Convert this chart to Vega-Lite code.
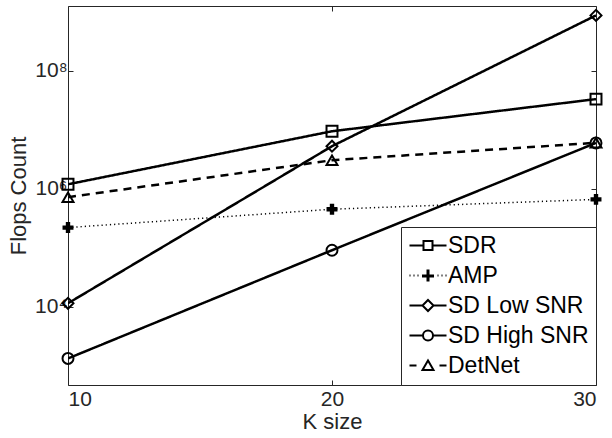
{
  "$schema": "https://vega.github.io/schema/vega-lite/v6.json",
  "width": 528,
  "height": 379,
  "autosize": "none",
  "padding": {"left": 68, "top": 6, "right": 16, "bottom": 53},
  "background": "white",
  "config": {
    "font": "Liberation Sans",
    "view": {"stroke": "#262626", "strokeWidth": 1},
    "axis": {
      "labelFont": "Liberation Sans",
      "labelFontSize": 21,
      "labelColor": "#262626",
      "titleFont": "Liberation Sans",
      "titleFontSize": 22,
      "titleFontWeight": "normal",
      "titleColor": "#262626",
      "domain": false,
      "grid": false,
      "tickColor": "#262626",
      "tickSize": -5,
      "tickWidth": 1
    }
  },
  "data": {
    "values": [
      {"method": "SDR", "K": 10, "flops": 1190000},
      {"method": "SDR", "K": 20, "flops": 9400000},
      {"method": "SDR", "K": 30, "flops": 32900000},
      {"method": "AMP", "K": 10, "flops": 220000},
      {"method": "AMP", "K": 20, "flops": 450000},
      {"method": "AMP", "K": 30, "flops": 660000},
      {"method": "SD Low SNR", "K": 10, "flops": 11500},
      {"method": "SD Low SNR", "K": 20, "flops": 5250000},
      {"method": "SD Low SNR", "K": 30, "flops": 860000000},
      {"method": "SD High SNR", "K": 10, "flops": 1340},
      {"method": "SD High SNR", "K": 20, "flops": 91000},
      {"method": "SD High SNR", "K": 30, "flops": 5970000},
      {"method": "DetNet", "K": 10, "flops": 720000},
      {"method": "DetNet", "K": 20, "flops": 3040000},
      {"method": "DetNet", "K": 30, "flops": 6000000}
    ]
  },
  "resolve": {
    "axis": {"x": "independent", "y": "independent"},
    "scale": {"shape": "independent"}
  },
  "layer": [
    {
      "mark": {"type": "line", "color": "black", "clip": true},
      "encoding": {
        "x": {
          "field": "K", "type": "quantitative",
          "scale": {"domain": [10, 30], "nice": false, "zero": false},
          "axis": {"orient": "bottom", "values": [10, 20, 30], "title": "K size", "labelPadding": 8, "titlePadding": 2}
        },
        "y": {
          "field": "flops", "type": "quantitative",
          "scale": {"type": "log", "domain": [476, 1240000000], "nice": false},
          "axis": {
            "orient": "left",
            "values": [10000, 1000000, 100000000],
            "labelExpr": "datum.value == 10000 ? '10⁴' : datum.value == 1000000 ? '10⁶' : '10⁸'",
            "labelPadding": 6,
            "title": "Flops Count",
            "titlePadding": 4
          }
        },
        "detail": {"field": "method", "type": "nominal"},
        "strokeDash": {
          "condition": [
            {"test": "datum.method === 'AMP'", "value": [1.2, 3]},
            {"test": "datum.method === 'DetNet'", "value": [8, 6]}
          ],
          "value": [1, 0]
        },
        "strokeWidth": {
          "condition": {"test": "datum.method === 'AMP'", "value": 1.5},
          "value": 2.5
        }
      }
    },
    {
      "mark": {"type": "point", "opacity": 1, "stroke": "black", "size": 120},
      "encoding": {
        "x": {
          "field": "K", "type": "quantitative",
          "axis": {"orient": "top", "values": [10, 20, 30], "labels": false, "title": null}
        },
        "y": {
          "field": "flops", "type": "quantitative",
          "axis": {"orient": "right", "values": [10000, 1000000, 100000000], "labels": false, "title": null}
        },
        "shape": {
          "field": "method", "type": "nominal",
          "scale": {
            "domain": ["AMP", "DetNet", "SD High SNR", "SD Low SNR", "SDR"],
            "range": ["cross", "triangle-up", "circle", "diamond", "square"]
          },
          "legend": null
        },
        "fill": {
          "condition": {"test": "datum.method === 'AMP'", "value": "black"},
          "value": "transparent"
        },
        "strokeWidth": {
          "condition": {"test": "datum.method === 'AMP'", "value": 0},
          "value": 2
        }
      }
    },
    {
      "transform": [{"filter": "false"}],
      "mark": {"type": "point", "opacity": 1, "color": "black", "filled": false, "strokeWidth": 2},
      "encoding": {
        "x": {"field": "K", "type": "quantitative", "axis": null},
        "y": {"field": "flops", "type": "quantitative", "axis": null},
        "shape": {
          "field": "method", "type": "nominal",
          "scale": {
            "domain": ["SDR", "AMP", "SD Low SNR", "SD High SNR", "DetNet"],
            "range": [
              "M-2,0H0.8M2.6,0H5.4M0.8,-0.9H2.6V0.9H0.8Z",
              "M-2,0H-1.8M-1.2,0H-1M-0.4,0H-0.2M0.5,0H2.9M0.5,0.2H2.9M1.6,-1.2V1.2M1.8,-1.2V1.2M3.6,0H3.8M4.4,0H4.6M5.2,0H5.4",
              "M-2,0H0.6M2.8,0H5.4M1.7,-1.1L2.8,0L1.7,1.1L0.6,0Z",
              "M-2,0H0.7M2.7,0H5.4M0.7,0A1,1 0 1,0 2.7,0A1,1 0 1,0 0.7,0Z",
              "M-2,0H-0.6M4,0H5.4M1.7,-1L2.8,0.9H0.6Z"
            ]
          },
          "legend": {
            "title": null,
            "orient": "bottom-right",
            "offset": 0,
            "padding": 7,
            "strokeColor": "#262626",
            "fillColor": "white",
            "labelFont": "Liberation Sans",
            "labelFontSize": 23,
            "labelColor": "black",
            "labelOffset": 17,
            "rowPadding": 6,
            "symbolSize": 100,
            "symbolStrokeWidth": 2,
            "symbolStrokeColor": "black",
            "symbolFillColor": "transparent"
          }
        }
      }
    }
  ]
}
